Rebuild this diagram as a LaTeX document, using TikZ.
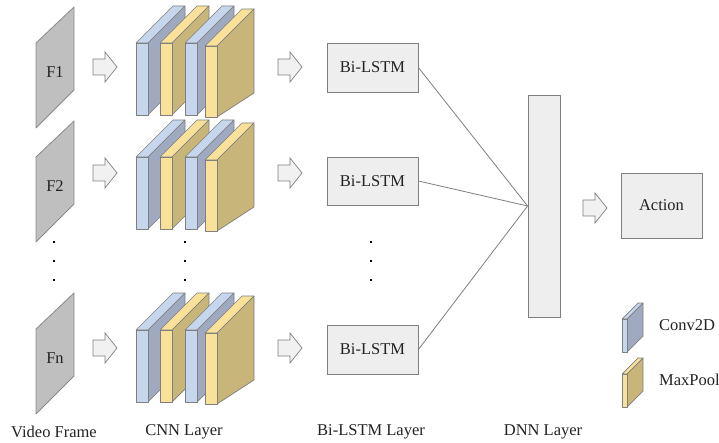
\documentclass[tikz,border=0pt]{standalone}
\usepackage{fontspec}
\setmainfont{Liberation Serif}
\definecolor{framefill}{HTML}{BFBFBF}
\definecolor{framedraw}{HTML}{8A8A8A}
\definecolor{bluefront}{HTML}{C6D6EC}
\definecolor{blueside}{HTML}{9FA9C0}
\definecolor{yelfront}{HTML}{F9E19A}
\definecolor{yelside}{HTML}{C8B579}
\definecolor{edgegray}{HTML}{7F7F7F}
\definecolor{boxfill}{HTML}{EDEEED}
\definecolor{arrowfill}{HTML}{F0F1F0}
\definecolor{textgray}{HTML}{222222}
\begin{document}
\begin{tikzpicture}[x=1pt,y=-1pt,
  lbl/.style={font=\fontsize{16.5}{19}\selectfont, text=textgray, inner sep=0pt},
  framebox/.style={fill=framefill, draw=framedraw, line width=0.8pt, line join=round},
  slabline/.style={draw=edgegray, line width=0.7pt, line join=round},
  procbox/.style={draw=edgegray, fill=boxfill, line width=0.8pt, inner sep=0pt, text=textgray, font=\fontsize{16.5}{19}\selectfont},
  hollowarrow/.style={fill=arrowfill, draw=edgegray, line width=0.7pt, line join=miter},
  link/.style={draw=edgegray, line width=0.8pt},
  dot/.style={rectangle, fill=black, inner sep=0pt, minimum size=2pt}
]
\useasboundingbox (0,0) rectangle (719,443);

% hollow block arrow: #1 = left x, #2 = center y
\newcommand{\blockarrow}[2]{%
  \path[hollowarrow] (#1,#2-8) -- (#1+12,#2-8) -- (#1+12,#2-15) -- (#1+24,#2) -- (#1+12,#2+15) -- (#1+12,#2+8) -- (#1,#2+8) -- cycle;}

% slab: #1 front left x, #2 top y, #3 width, #4 height, #5 depth, #6 front colour, #7 side colour
\newcommand{\slab}[7]{%
  \path[slabline, fill=#6] (#1,#2) -- (#1+#5,#2-#5) -- (#1+#3+#5,#2-#5) -- (#1+#3,#2) -- cycle;
  \path[slabline, fill=#7] (#1+#3,#2) -- (#1+#3+#5,#2-#5) -- (#1+#3+#5,#2+#4-#5) -- (#1+#3,#2+#4) -- cycle;
  \path[slabline, fill=#6] (#1,#2) rectangle (#1+#3,#2+#4);}

% CNN block with vertical offset #1
\newcommand{\cnnblock}[1]{%
  \slab{136}{43+#1}{12}{72}{37}{bluefront}{blueside}
  \slab{160}{43+#1}{12}{72}{37}{yelfront}{yelside}
  \slab{185}{43+#1}{12}{72}{37}{bluefront}{blueside}
  \path[slabline, fill=yelfront] (205,46+#1) -- (242,9+#1) -- (254,9+#1) -- (217,46+#1) -- cycle;
  \path[slabline, fill=yelside] (217,46+#1) -- (254,9+#1) -- (254,93+#1) -- (217,117+#1) -- cycle;
  \path[slabline, fill=yelfront] (205,46+#1) rectangle (217,117+#1);}

% frames
\foreach \o/\t/\n in {0/F1/f1, 114/F2/f2, 286/Fn/fn}{
  \path[framebox] (36,43+\o) -- (74,7+\o) -- (74,90+\o) -- (36,128+\o) -- cycle;
  \node[lbl] (\n) at (55,72+\o) {\t};
}

% arrows frame -> CNN and CNN -> LSTM
\foreach \y in {67,173,348}{
  \blockarrow{93}{\y}
  \blockarrow{278}{\y}
}

% CNN blocks
\cnnblock{0}
\cnnblock{114}
\cnnblock{287}

% dots
\foreach \x/\n in {54/fd, 185/cd, 371/ld}{
  \node[dot] (\n1) at (\x,242) {};
  \node[dot] (\n2) at (\x,261) {};
  \node[dot] (\n3) at (\x,280) {};
}

% Bi-LSTM
\node[procbox, minimum width=91pt, minimum height=49pt] (l1) at (372.5,67.5) {Bi-LSTM};
\node[procbox, minimum width=91pt, minimum height=48pt] (l2) at (372.5,181) {Bi-LSTM};
\node[procbox, minimum width=91pt, minimum height=49pt] (l3) at (372.5,349.5) {Bi-LSTM};

% DNN
\node[procbox, minimum width=32pt, minimum height=222pt] (dnn) at (544,206) {};

\draw[link] (l1.east) -- (dnn.west);
\draw[link] (l2.east) -- (dnn.west);
\draw[link] (l3.east) -- (dnn.west);

% DNN -> Action
\blockarrow{583}{208}
\node[procbox, minimum width=81pt, minimum height=65pt] (act) at (661.5,205.5) {Action};

% legend
\slab{622}{319}{5}{33}{16}{bluefront}{blueside}
\slab{622}{374}{5}{33}{16}{yelfront}{yelside}
\node[lbl, anchor=west] (convlbl) at (659,325) {Conv2D};
\node[lbl, anchor=west] (poollbl) at (659,380) {MaxPool};

% bottom labels
\node[lbl] (t1) at (54,432) {Video Frame};
\node[lbl] (t2) at (184,432) {CNN Layer};
\node[lbl] (t3) at (371,432) {Bi-LSTM Layer};
\node[lbl] (t4) at (543,432) {DNN Layer};
\end{tikzpicture}
\end{document}
